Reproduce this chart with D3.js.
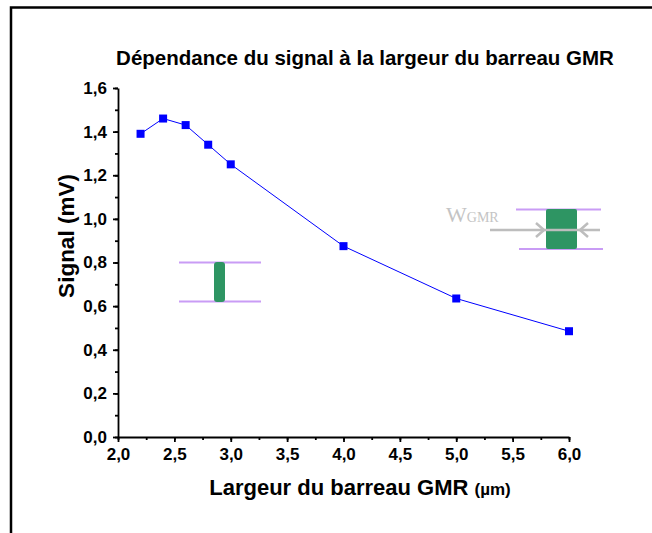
<!DOCTYPE html>
<html><head><meta charset="utf-8">
<script src="https://cdn.jsdelivr.net/npm/d3@7"></script>
<style>body{margin:0;background:#fff}svg{display:block}</style>
</head><body>
<script>
const widths = [2.2, 2.4, 2.6, 2.8, 3.0, 4.0, 5.0, 6.0];
const signal = [1.39, 1.46, 1.43, 1.34, 1.25, 0.875, 0.635, 0.485];
const xTicks = [2.0, 2.5, 3.0, 3.5, 4.0, 4.5, 5.0, 5.5, 6.0];
const yTicks = [0.0, 0.2, 0.4, 0.6, 0.8, 1.0, 1.2, 1.4, 1.6];
const titleText = "Dépendance du signal à la largeur du barreau GMR";

const W = 652, H = 533;
const svg = d3.select("body").append("svg").attr("width", W).attr("height", H);
const font = "Liberation Sans, Arial, sans-serif";

// frame (partly outside)
svg.append("rect").attr("x", 11).attr("y", 7.5).attr("width", 700).attr("height", 600)
  .attr("fill", "none").attr("stroke", "#000").attr("stroke-width", 2.5);

const x = d3.scaleLinear().domain([2, 6]).range([118, 569]);
const y = d3.scaleLinear().domain([0, 1.6]).range([437, 88]);
const fmt = d => d.toFixed(1).replace(".", ",");

// minor ticks
const gx = svg.append("g").attr("transform", "translate(0,437)");
gx.call(d3.axisBottom(x).tickValues(d3.range(2, 6.01, 0.25)).tickSize(3).tickFormat(""))
gx.call(g => g.select(".domain").remove());
const gx2 = svg.append("g").attr("transform", "translate(0,437)")
  .call(d3.axisBottom(x).tickValues(xTicks).tickSize(5).tickSizeOuter(0).tickPadding(6).tickFormat(fmt));
[gx, gx2].forEach(g => g.selectAll("line,path").attr("stroke", "#000").attr("stroke-width", 1.8));
gx2.selectAll("text").attr("font-family", font).attr("font-weight", "bold").attr("font-size", 17).attr("fill", "#000");

const gy = svg.append("g").attr("transform", "translate(118,0)")
  .call(d3.axisLeft(y).tickValues(d3.range(0, 1.601, 0.1)).tickSize(3).tickFormat(""));
gy.select(".domain").remove();
const gy2 = svg.append("g").attr("transform", "translate(118,0)")
  .call(d3.axisLeft(y).tickValues(yTicks).tickSize(5).tickSizeOuter(0).tickPadding(6).tickFormat(fmt));
[gy, gy2].forEach(g => g.selectAll("line,path").attr("stroke", "#000").attr("stroke-width", 1.8));
gy2.selectAll("text").attr("font-family", font).attr("font-weight", "bold").attr("font-size", 17).attr("fill", "#000");

// title
svg.append("text").attr("x", 365).attr("y", 65).attr("text-anchor", "middle")
  .attr("font-family", font).attr("font-weight", "bold").attr("font-size", 20.5).text(titleText);

// axis labels
svg.append("text").attr("transform", "translate(74,236) rotate(-90)").attr("text-anchor", "middle")
  .attr("font-family", font).attr("font-weight", "bold").attr("font-size", 22.5).text("Signal (mV)");
const xl = svg.append("text").attr("x", 360).attr("y", 495).attr("text-anchor", "middle")
  .attr("font-family", font).attr("font-weight", "bold").attr("font-size", 22);
xl.append("tspan").text("Largeur du barreau GMR ");
xl.append("tspan").attr("font-size", 17).text("(µm)");

// data line + markers
const data = widths.map((w, i) => ({ w, s: signal[i] }));
svg.append("path").datum(data)
  .attr("d", d3.line().x(d => x(d.w)).y(d => y(d.s)))
  .attr("fill", "none").attr("stroke", "#0000ff").attr("stroke-width", 1);
svg.selectAll("rect.pt").data(data).enter().append("rect").attr("class", "pt")
  .attr("x", d => x(d.w) - 4).attr("y", d => y(d.s) - 4).attr("width", 8).attr("height", 8)
  .attr("fill", "#0000ff");

// left inset (narrow bar)
const purple = "#c99cf5", green = "#2e9563", gray = "#bdbdbd";
const ins = svg.append("g");
ins.append("line").attr("x1", 179).attr("x2", 261).attr("y1", 262.5).attr("y2", 262.5).attr("stroke", purple).attr("stroke-width", 2);
ins.append("line").attr("x1", 179).attr("x2", 261).attr("y1", 301.5).attr("y2", 301.5).attr("stroke", purple).attr("stroke-width", 2);
ins.append("rect").attr("x", 214).attr("y", 262).attr("width", 11).attr("height", 40).attr("rx", 3).attr("fill", green);

// right inset (wide bar)
const ins2 = svg.append("g");
ins2.append("line").attr("x1", 516).attr("x2", 601).attr("y1", 209.5).attr("y2", 209.5).attr("stroke", purple).attr("stroke-width", 2);
ins2.append("line").attr("x1", 519).attr("x2", 603).attr("y1", 249).attr("y2", 249).attr("stroke", purple).attr("stroke-width", 2);
ins2.append("rect").attr("x", 546).attr("y", 209).attr("width", 31).attr("height", 40).attr("rx", 2).attr("fill", green);
ins2.append("line").attr("x1", 490).attr("x2", 600).attr("y1", 230).attr("y2", 230).attr("stroke", gray).attr("stroke-width", 2.5);
ins2.append("path").attr("d", "M536,223 L544,230 L536,237").attr("fill", "none").attr("stroke", gray).attr("stroke-width", 2.5);
ins2.append("path").attr("d", "M588,223 L580,230 L588,237").attr("fill", "none").attr("stroke", gray).attr("stroke-width", 2.5);
const wt = ins2.append("text").attr("x", 446).attr("y", 222).attr("fill", "#c4c4c4")
  .attr("font-family", "Liberation Serif, Times New Roman, serif");
wt.append("tspan").attr("font-size", 22).text("W");
wt.append("tspan").attr("font-size", 14).text("GMR");
</script>
</body></html>
